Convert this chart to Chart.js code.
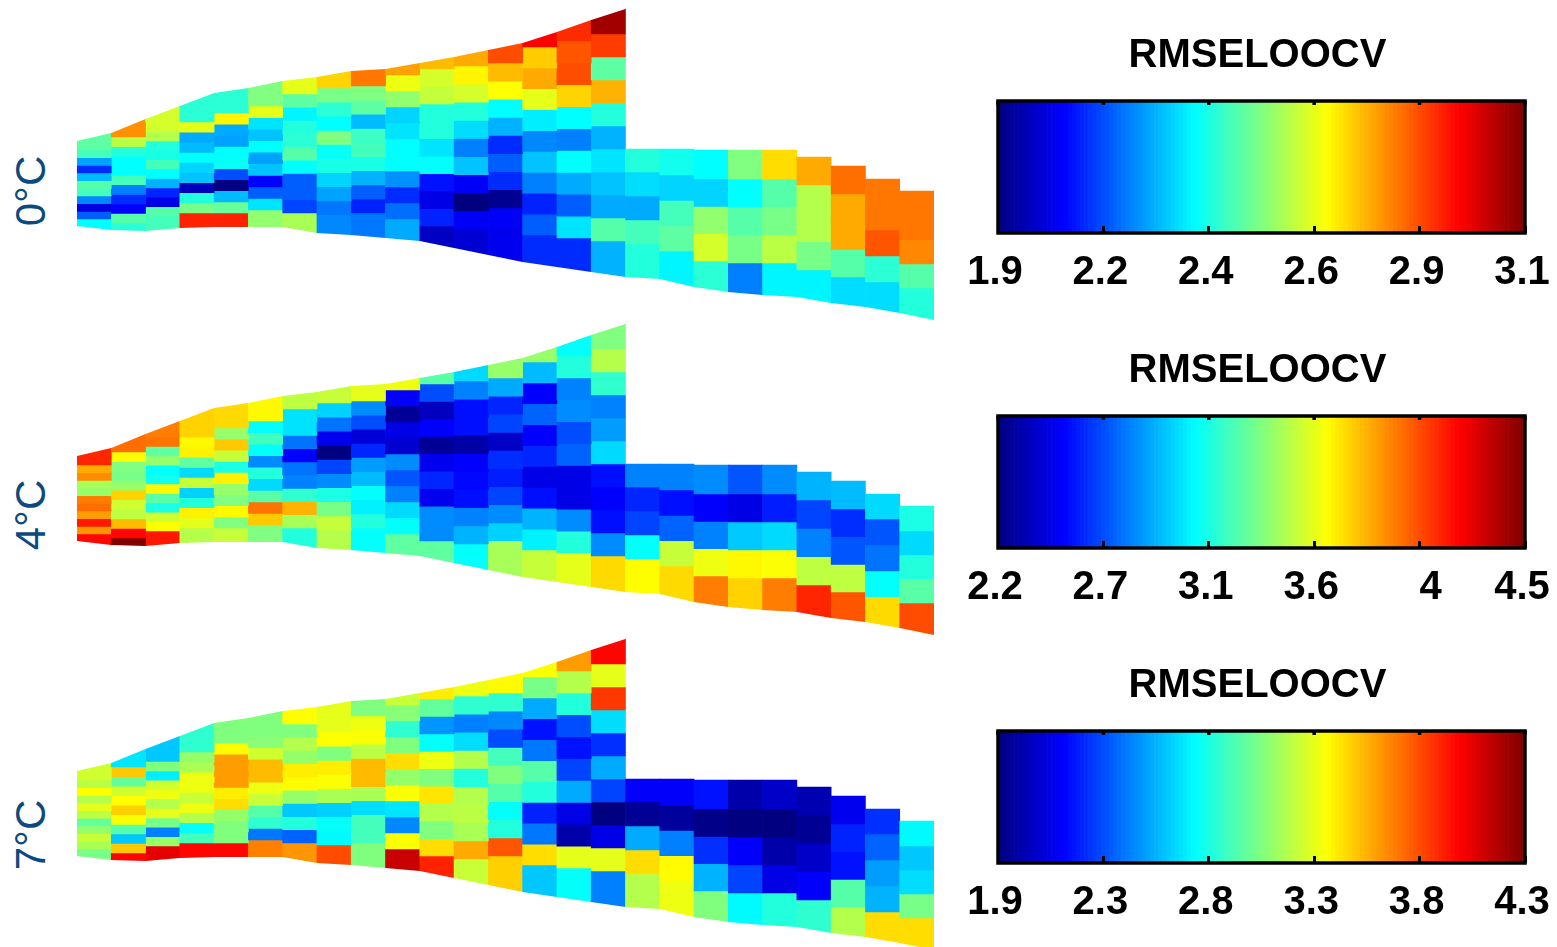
<!DOCTYPE html>
<html>
<head>
<meta charset="utf-8">
<title>RMSELOOCV</title>
<script src="https://cdn.jsdelivr.net/npm/chart.js@4"></script>
<style>
    html, body { margin: 0; height: 100%; background: #fff; overflow: hidden; }
    canvas { position: absolute; }
    .side {
        position: absolute; left: 31px; color: #0b4a80;
        font: 42px "Liberation Sans", sans-serif; white-space: nowrap;
        transform: translate(-50%, -50%) rotate(-90deg);
    }
</style>
</head>
<body>
<script>
// section mesh, in picture units from the top of each panel
const columnTop = [133, 119, 106, 92, 88, 81, 77, 71, 69, 63, 57, 50, 43, 32, 20, 9, 149, 149, 150, 150, 150, 157, 166, 179, 191];
const firstEdge = [150, 137, 122, 122, 113, 106, 94, 88, 86, 75, 69, 66, 63, 47, 41, 34, 172, 175, 179, 179, 179, 185, 194, 204, 216];
const lastEdge = [219, 223, 216, 213, 213, 210, 213, 215, 213, 219, 226, 229, 226, 235, 238, 241, 244, 251, 261, 263, 263, 270, 277, 282, 288];
const upperOutline = [141, 133, 119, 106, 93, 88, 81, 77, 71, 69, 63, 57, 50, 43, 32, 20, 9];
const lowerOutline = [226, 230, 231, 228, 227, 227, 227, 233, 235, 238, 241, 248, 255, 262, 267, 272, 277, 279, 287, 292, 295, 297, 303, 307, 313, 320];

// RMSE per column, top cell first
const rmse0C = [
    [2.46, 2.43, 2.24, 2.10, 2.27, 2.45, 2.43, 2.21, 2.01, 2.16, 2.35],
    [2.78, 2.57, 2.39, 2.35, 2.35, 2.43, 2.20, 2.10, 2.05, 2.45, 2.40],
    [2.60, 2.60, 2.56, 2.39, 2.38, 2.43, 2.35, 2.26, 2.09, 2.02, 2.45, 2.43],
    [2.40, 2.62, 2.25, 2.27, 2.35, 2.30, 2.28, 1.97, 2.39, 2.49, 2.91],
    [2.40, 2.66, 2.25, 2.24, 2.35, 2.36, 2.14, 1.90, 2.27, 2.47, 2.91],
    [2.50, 2.62, 2.32, 2.28, 2.35, 2.24, 2.28, 2.05, 2.16, 2.32, 2.52],
    [2.62, 2.46, 2.34, 2.39, 2.40, 2.45, 2.35, 2.16, 2.16, 2.13, 2.55],
    [2.70, 2.49, 2.40, 2.35, 2.50, 2.36, 2.38, 2.30, 2.24, 2.19, 2.21],
    [2.81, 2.50, 2.46, 2.27, 2.42, 2.43, 2.38, 2.26, 2.16, 2.09, 2.19],
    [2.76, 2.63, 2.52, 2.30, 2.32, 2.35, 2.35, 2.22, 2.10, 2.18, 2.25],
    [2.73, 2.60, 2.58, 2.39, 2.39, 2.32, 2.35, 2.07, 2.02, 2.09, 1.98],
    [2.75, 2.66, 2.60, 2.39, 2.31, 2.20, 2.28, 2.04, 1.90, 2.04, 2.00],
    [2.86, 2.73, 2.65, 2.35, 2.26, 2.10, 2.16, 2.10, 1.92, 2.04, 2.03],
    [2.95, 2.71, 2.75, 2.62, 2.33, 2.21, 2.28, 2.20, 2.09, 2.16, 2.10],
    [2.90, 2.85, 2.86, 2.70, 2.35, 2.20, 2.35, 2.25, 2.16, 2.32, 2.10],
    [3.06, 2.88, 2.46, 2.74, 2.39, 2.26, 2.32, 2.28, 2.25, 2.45, 2.26],
    [2.39, 2.31, 2.25, 2.43, 2.39],
    [2.37, 2.30, 2.43, 2.46, 2.34],
    [2.35, 2.30, 2.52, 2.60, 2.40],
    [2.50, 2.35, 2.45, 2.49, 2.20],
    [2.69, 2.45, 2.49, 2.57, 2.34],
    [2.75, 2.56, 2.56, 2.49, 2.34],
    [2.82, 2.75, 2.75, 2.45, 2.31],
    [2.81, 2.81, 2.85, 2.40, 2.31],
    [2.81, 2.81, 2.79, 2.45, 2.39]
];
const rmse4C = [
    [4.13, 3.83, 3.90, 3.44, 3.40, 3.93, 3.97, 3.86, 4.16, 3.88, 4.20],
    [3.97, 3.63, 3.35, 3.33, 3.40, 3.74, 3.53, 3.49, 3.79, 4.20, 4.50],
    [3.93, 3.95, 3.28, 3.40, 3.07, 3.10, 3.65, 3.26, 3.12, 3.53, 3.64, 4.16],
    [3.74, 3.65, 3.67, 3.28, 2.98, 3.51, 2.96, 3.14, 3.67, 3.58, 3.47],
    [3.72, 3.40, 3.76, 3.51, 3.12, 3.67, 3.40, 3.35, 3.65, 3.35, 3.51],
    [3.65, 3.07, 3.21, 3.07, 2.80, 3.14, 2.98, 3.26, 3.95, 3.76, 3.35],
    [3.49, 3.00, 3.00, 2.75, 2.48, 2.75, 2.78, 3.17, 3.81, 3.44, 3.14],
    [3.51, 2.96, 2.75, 2.45, 2.20, 2.64, 2.80, 3.12, 3.33, 3.51, 3.47],
    [3.58, 2.80, 2.66, 2.40, 2.57, 2.84, 2.91, 3.07, 3.03, 3.14, 3.07],
    [3.60, 2.48, 2.25, 2.43, 2.38, 2.80, 2.68, 2.78, 2.98, 3.07, 3.28],
    [3.26, 2.66, 2.34, 2.48, 2.25, 2.45, 2.57, 2.45, 2.80, 2.80, 3.28],
    [2.98, 2.78, 2.52, 2.52, 2.29, 2.48, 2.50, 2.52, 2.78, 2.89, 3.07],
    [3.40, 2.87, 2.57, 2.64, 2.36, 2.59, 2.55, 2.64, 2.80, 2.96, 3.44],
    [3.40, 2.91, 2.48, 2.71, 2.48, 2.57, 2.43, 2.52, 2.89, 3.03, 3.51],
    [3.07, 3.14, 2.78, 2.80, 2.66, 2.71, 2.43, 2.43, 2.80, 3.14, 3.58],
    [3.35, 3.47, 3.17, 2.78, 2.84, 2.98, 2.52, 2.48, 2.52, 2.80, 3.72],
    [2.78, 2.57, 2.64, 3.07, 3.64],
    [2.78, 2.52, 2.71, 3.51, 3.72],
    [2.80, 2.48, 2.78, 3.60, 3.93],
    [2.68, 2.43, 2.94, 3.65, 3.74],
    [2.80, 2.55, 2.98, 3.63, 3.93],
    [2.89, 2.64, 2.78, 3.49, 4.13],
    [2.91, 2.59, 2.68, 3.49, 4.02],
    [2.98, 2.68, 2.75, 3.07, 3.72],
    [3.12, 2.98, 3.14, 3.26, 4.04]
];
const rmse7C = [
    [3.29, 3.24, 3.40, 3.22, 3.34, 3.24, 3.03, 3.15, 3.27, 3.20, 3.08],
    [2.74, 3.53, 3.03, 3.29, 3.40, 3.51, 3.39, 3.00, 2.67, 3.53, 3.99],
    [2.67, 2.67, 3.10, 2.76, 3.29, 3.36, 3.22, 3.34, 3.08, 2.50, 3.15, 4.06],
    [2.91, 3.15, 3.20, 3.36, 3.36, 3.27, 3.36, 3.22, 2.81, 2.96, 3.99],
    [3.10, 3.41, 3.63, 3.63, 3.63, 3.44, 3.48, 3.15, 3.10, 3.10, 3.99],
    [3.10, 3.12, 3.29, 3.56, 3.56, 3.36, 3.27, 3.00, 2.91, 2.48, 3.70],
    [3.40, 3.10, 3.22, 3.15, 3.44, 3.41, 3.15, 2.67, 2.88, 2.43, 3.65],
    [3.34, 3.34, 3.40, 3.10, 3.44, 3.39, 3.20, 2.69, 2.81, 2.79, 3.82],
    [3.10, 3.36, 3.39, 3.24, 3.56, 3.56, 3.20, 2.72, 2.96, 2.96, 3.10],
    [3.27, 3.12, 2.91, 3.10, 3.48, 3.15, 3.39, 2.74, 2.52, 3.39, 4.13],
    [3.44, 3.03, 2.55, 2.81, 3.36, 3.10, 3.46, 3.22, 3.10, 3.48, 3.92],
    [3.36, 2.91, 2.50, 2.72, 3.22, 2.88, 3.22, 3.24, 3.20, 3.60, 3.27],
    [3.41, 2.91, 2.52, 2.38, 2.96, 3.10, 3.00, 2.81, 2.88, 3.80, 3.51],
    [3.39, 3.08, 2.60, 2.24, 2.48, 3.00, 2.88, 2.28, 2.48, 3.48, 2.67],
    [3.63, 3.22, 2.88, 2.38, 2.24, 2.36, 2.60, 2.14, 2.00, 3.34, 2.81],
    [3.99, 3.34, 3.87, 2.72, 2.31, 2.60, 2.36, 1.90, 2.14, 3.34, 2.50],
    [2.19, 1.95, 2.60, 3.48, 3.22],
    [2.19, 1.97, 2.50, 3.41, 3.36],
    [2.24, 1.92, 2.31, 2.62, 3.10],
    [2.00, 1.90, 2.19, 2.36, 2.79],
    [2.07, 1.90, 2.00, 2.14, 2.88],
    [2.02, 1.95, 2.07, 2.19, 2.91],
    [2.16, 2.28, 2.24, 3.00, 3.22],
    [2.31, 2.43, 2.57, 2.62, 3.48],
    [2.79, 2.67, 2.72, 3.08, 3.48]
];

const panelLabels = ['0°C', '4°C', '7°C'];
const colorMin = [1.9, 2.2, 1.9];
const colorMax = [3.1, 4.5, 4.3];
const tickLabels0C = ['1.9', '2.2', '2.4', '2.6', '2.9', '3.1'];
const tickLabels4C = ['2.2', '2.7', '3.1', '3.6', '4', '4.5'];
const tickLabels7C = ['1.9', '2.3', '2.8', '3.3', '3.8', '4.3'];
const rampTicks = [0, 25.6, 51.2, 76.8, 102.4, 128];
const rampLevels = [0, 1, 2, 3, 4, 5, 6, 7, 8, 9, 10, 11, 12, 13, 14, 15, 16, 17, 18, 19, 20, 21, 22, 23, 24, 25, 26, 27, 28, 29, 30, 31,
    32, 33, 34, 35, 36, 37, 38, 39, 40, 41, 42, 43, 44, 45, 46, 47, 48, 49, 50, 51, 52, 53, 54, 55, 56, 57, 58, 59, 60, 61, 62, 63,
    64, 65, 66, 67, 68, 69, 70, 71, 72, 73, 74, 75, 76, 77, 78, 79, 80, 81, 82, 83, 84, 85, 86, 87, 88, 89, 90, 91, 92, 93, 94, 95,
    96, 97, 98, 99, 100, 101, 102, 103, 104, 105, 106, 107, 108, 109, 110, 111, 112, 113, 114, 115, 116, 117, 118, 119, 120, 121, 122, 123, 124, 125, 126, 127];

const PANEL_STEP = 315;

// matlab jet colormap, t from 0 to 1
function jet(t) {
    const ramp = c => Math.round(255 * Math.max(0, Math.min(1, c)));
    const r = ramp(Math.min(4 * t - 1.5, 4.5 - 4 * t));
    const g = ramp(Math.min(4 * t - 0.5, 3.5 - 4 * t));
    const b = ramp(Math.min(4 * t + 0.5, 2.5 - 4 * t));
    return `rgb(${r},${g},${b})`;
}

function addCanvas(left, top, width, height) {
    const canvas = document.createElement('canvas');
    canvas.width = width;
    canvas.height = height;
    canvas.style.left = left + 'px';
    canvas.style.top = top + 'px';
    canvas.style.width = width + 'px';
    canvas.style.height = height + 'px';
    document.body.appendChild(canvas);
    return canvas;
}

// 1. section heat map: every cell is a floating bar, one dataset per row
function sectionChart(panel, values) {
    const min = colorMin[panel], max = colorMax[panel];
    const rows = [];
    values.forEach(function(cells, col) {
        const n = cells.length;
        const step = (lastEdge[col] - firstEdge[col]) / (n - 2);
        cells.forEach(function(v, k) {
            const from = k === 0 ? columnTop[col] : firstEdge[col] + (k - 1) * step;
            const to = k === n - 1 ? Math.max(lowerOutline[col], lowerOutline[col + 1]) : firstEdge[col] + k * step;
            if (!rows[k]) rows[k] = { data: [], backgroundColor: [], borderWidth: 0, grouped: false, order: 1 };
            rows[k].data.push({ x: col + 0.5, y: [from, to] });
            rows[k].backgroundColor.push(jet((v - min) / (max - min)));
        });
    });

    // white masks cut the sloped ground and surface lines out of the cells
    const mask = (line, fill) => ({
        type: 'line',
        data: line.map((y, i) => ({ x: i, y: y })),
        fill: fill,
        backgroundColor: '#fff',
        borderWidth: 0,
        pointRadius: 0,
        tension: 0,
        order: 0
    });

    new Chart(addCanvas(77, panel * PANEL_STEP, 857, 330), {
        type: 'bar',
        data: { datasets: rows.concat([mask(upperOutline, 'end'), mask(lowerOutline, 'start')]) },
        options: {
            responsive: false,
            animation: false,
            devicePixelRatio: 1,
            barPercentage: 1,
            categoryPercentage: 1,
            layout: { padding: 0 },
            plugins: { legend: { display: false }, tooltip: { enabled: false } },
            scales: {
                x: { type: 'linear', offset: false, min: 0, max: 25, display: false, ticks: { stepSize: 5 } },
                y: { min: 0, max: 330, reverse: true, display: false }
            }
        }
    });
}

// frame round the colorbar and the short ticks along its top
const framePlugin = {
    id: 'frame',
    afterLayout(chart) {
        // title sits a little left of the bar's centre
        chart.titleBlock.left -= 4;
        chart.titleBlock.right -= 4;
    },
    beforeDraw(chart) {
        // the lone "4" sits to the right of its tick in the original
        const item = chart.scales.x.getLabelItems().find(it => it.label === '4');
        if (item) item.options.translation[0] += 14;
    },
    afterDraw(chart) {
        const { ctx, chartArea, scales } = chart;
        ctx.save();
        ctx.strokeStyle = '#000';
        ctx.lineWidth = 3.5;
        ctx.strokeRect(chartArea.left, chartArea.top, chartArea.width, chartArea.height);
        scales.x.ticks.forEach(function(tick) {
            const px = scales.x.getPixelForValue(tick.value);
            ctx.beginPath();
            ctx.moveTo(px, chartArea.top);
            ctx.lineTo(px, chartArea.top + 4);
            ctx.stroke();
        });
        ctx.restore();
    }
};

// 2. colorbar
function colorbarChart(panel, labels) {
    new Chart(addCanvas(958, 15 + panel * PANEL_STEP, 599, 285), {
        type: 'bar',
        data: {
            datasets: [{
                data: rampLevels.map(l => ({ x: l + 0.5, y: 1 })),
                backgroundColor: rampLevels.map(l => jet((l + 0.5) / rampLevels.length)),
                borderWidth: 0
            }]
        },
        options: {
            responsive: false,
            animation: false,
            devicePixelRatio: 1,
            barPercentage: 1,
            categoryPercentage: 1,
            layout: { padding: { left: 40, right: 32 } },
            plugins: {
                legend: { display: false },
                tooltip: { enabled: false },
                title: {
                    display: true,
                    text: 'RMSELOOCV',
                    color: '#000',
                    font: { family: '"Liberation Sans", sans-serif', size: 40, weight: 'bold', lineHeight: 1.2 },
                    padding: { top: 17, bottom: 21 }
                }
            },
            scales: {
                x: {
                    type: 'linear',
                    offset: false,
                    min: 0,
                    max: rampLevels.length,
                    afterBuildTicks: scale => { scale.ticks = rampTicks.map(v => ({ value: v })); },
                    afterFit: scale => { scale.paddingLeft = 0; scale.paddingRight = 0; scale.height = 67; },
                    border: { display: false },
                    grid: { offset: false, drawOnChartArea: false, color: '#000', lineWidth: 3, tickLength: -7, z: 1 },
                    ticks: {
                        autoSkip: false,
                        maxRotation: 0,
                        color: '#000',
                        padding: 23,
                        labelOffset: -3,
                        font: { family: '"Liberation Sans", sans-serif', size: 40, weight: 'bold' },
                        callback: (value, i) => labels[i]
                    }
                },
                y: { min: 0, max: 1, display: false }
            }
        },
        plugins: [framePlugin]
    });
}

[rmse0C, rmse4C, rmse7C].forEach((values, panel) => sectionChart(panel, values));
[tickLabels0C, tickLabels4C, tickLabels7C].forEach((labels, panel) => colorbarChart(panel, labels));

[191, 515, 835].forEach(function(y, i) {
    const label = document.createElement('div');
    label.className = 'side';
    label.style.top = y + 'px';
    label.textContent = panelLabels[i];
    document.body.appendChild(label);
});
</script>
</body>
</html>
